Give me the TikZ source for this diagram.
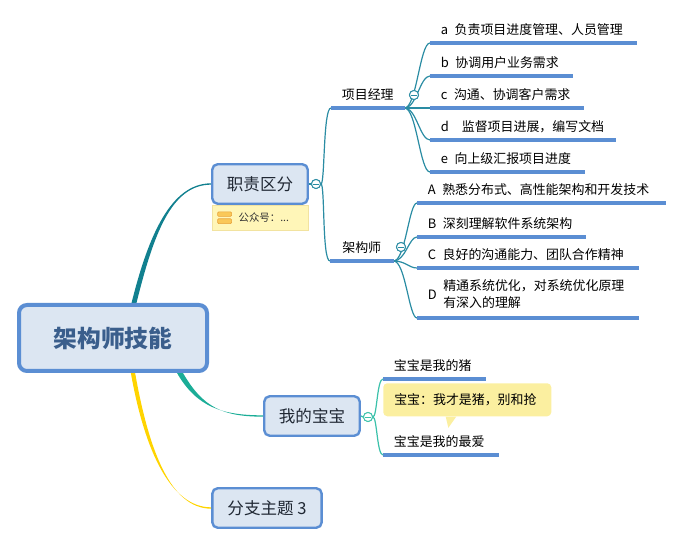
\documentclass[tikz,border=0pt]{standalone}
\usepackage{fontspec}
\setmainfont{Noto Sans CJK SC}
\usetikzlibrary{positioning,calc,backgrounds}
\definecolor{boxline}{HTML}{5B8ED3}
\definecolor{boxfill}{HTML}{DCE6F2}
\definecolor{roottext}{HTML}{3A5E8C}
\definecolor{topictext}{HTML}{1F2733}
\definecolor{mainA}{HTML}{11808F}
\definecolor{mainB}{HTML}{1BAD97}
\definecolor{mainC}{HTML}{FFD400}
\definecolor{subA}{HTML}{2A8CA3}
\definecolor{subB}{HTML}{3BC1AA}
\definecolor{notefill}{HTML}{FFF6B8}
\definecolor{notedraw}{HTML}{F2E3A0}
\definecolor{notetext}{HTML}{333333}
\definecolor{calloutfill}{HTML}{FBEFA0}
\definecolor{iconfill}{HTML}{FAC858}
\definecolor{icondraw}{HTML}{E8A33A}
\newcommand{\leaffont}{\fontsize{9.7pt}{13pt}\selectfont}

\begin{document}
\begin{tikzpicture}[x=0.75pt,y=0.75pt,
  root/.style={draw=boxline,line width=3pt,fill=boxfill,rounded corners=6pt,
    minimum width=141pt,minimum height=49.5pt,text=roottext,
    font=\fontsize{17.8pt}{20pt}\selectfont\bfseries},
  topic/.style={draw=boxline,line width=1.8pt,fill=boxfill,rounded corners=4pt,
    minimum width=71.6pt,minimum height=29.6pt,text=topictext,
    font=\fontsize{12.4pt}{15pt}\selectfont},
  leaf/.style={anchor=south west,inner xsep=8pt,inner ysep=3.5pt,text depth=2.5pt,
    text width=#1,align=left,font=\leaffont},
  uline/.style={draw=boxline,line width=2.4pt},
  brA/.style={draw=subA,line width=0.9pt},
  brB/.style={draw=subB,line width=0.9pt},
  fold/.style={circle,draw=#1,fill=white,line width=0.7pt,minimum size=6.8pt,inner sep=0pt,
    path picture={\draw[#1,line width=0.7pt] ([xshift=-2pt]path picture bounding box.center)
      -- ([xshift=2pt]path picture bounding box.center);}},
  note/.style={draw=notedraw,fill=notefill,line width=0.6pt,minimum height=18.5pt,
    text width=72pt,inner xsep=0pt,inner ysep=0pt,align=left,text=notetext,
    font=\fontsize{7.8pt}{9pt}\selectfont},
  callout/.style={fill=calloutfill,rounded corners=3pt,anchor=north west,
    minimum width=126pt,minimum height=24.75pt,text width=109.5pt,inner xsep=8.25pt,
    align=left,font=\leaffont},
  iconbar/.style={draw=icondraw,fill=iconfill,line width=0.5pt,rounded corners=0.8pt}
]
\useasboundingbox (0,0) rectangle (682,546);

%--- central topic and main branches ---
\node[root] (root) at (113,208) {架构师技能};
\node[topic] (t1) at (260,362) {职责区分};
\node[note,below=0pt of t1] (note) {\hspace*{20pt}公众号：...};
\node[topic] (t2) at (312,130) {我的宝宝};
\node[topic,minimum width=82pt] (t3) at (267,38) {分支主题 3};

% note icon
\filldraw[iconbar] ([xshift=4.5pt,yshift=-5.2pt]note.north west) rectangle ++(10.5pt,-3.4pt);
\filldraw[iconbar] ([xshift=4.5pt,yshift=-10.4pt]note.north west) rectangle ++(10.5pt,-3.6pt);

%--- sub topics of 职责区分 ---
\node[leaf=38.75pt,align=center] (pm) at (331,438) {项目经理};
\node[leaf=31.25pt,align=center] (arch) at (330,285) {架构师};

\node[leaf=138.5pt] (a) at (430,503) {a\enspace 负责项目进度管理、人员管理};
\node[leaf=90.5pt]  (b) at (430,470) {b\enspace 协调用户业务需求};
\node[leaf=98.75pt] (c) at (430,438) {c\enspace 沟通、协调客户需求};
\node[leaf=122.75pt](d) at (430,406) {d\enspace\enspace 监督项目进展，编写文档};
\node[leaf=99.5pt]  (e) at (430,374) {e\enspace 向上级汇报项目进度};

\node[leaf=170pt]    (A) at (417,343) {A\enspace 熟悉分布式、高性能架构和开发技术};
\node[leaf=110pt]    (B) at (417,309) {B\enspace 深刻理解软件系统架构};
\node[leaf=149.75pt] (C) at (417,278) {C\enspace 良好的沟通能力、团队合作精神};
\node[leaf=149.75pt,text depth={}] (D) at (417,228)
  {D\enspace\begin{tabular}[c]{@{}l@{}}精通系统优化，对系统优化原理\\有深入的理解\end{tabular}};

%--- sub topics of 我的宝宝 ---
\node[leaf=60.5pt]  (s1) at (383,167) {宝宝是我的猪};
\node[leaf=70.25pt] (s2) at (383,91)  {宝宝是我的最爱};
\node[callout] (co) at ([yshift=-3pt]s1.south west) {宝宝：我才是猪，别和抢};
\fill[calloutfill] ([xshift=47pt]co.south west) -- ([xshift=55pt]co.south west)
  -- ([xshift=49pt,yshift=-8.5pt]co.south west) -- cycle;

%--- tapered main branches ---
\begin{scope}[on background layer]
  \fill[mainA] ([xshift=13.9pt]root.north) to[out=76,in=180,out distance=52.5pt,in distance=30pt]
    ([yshift=0.5pt]t1.west) -- ([yshift=-0.5pt]t1.west)
    to[out=180,in=76,out distance=30pt,in distance=52.5pt] ([xshift=17.6pt]root.north) -- cycle;
  \fill[mainB] ([xshift=48pt]root.south) to[out=-60,in=180,out distance=30pt,in distance=30pt]
    ([yshift=0.5pt]t2.west) -- ([yshift=-0.5pt]t2.west)
    to[out=180,in=-60,out distance=30pt,in distance=30pt] ([xshift=52.5pt]root.south) -- cycle;
  \fill[mainC] ([xshift=13.4pt]root.south) to[out=-80,in=180,out distance=60pt,in distance=30pt]
    ([yshift=0.5pt]t3.west) -- ([yshift=-0.5pt]t3.west)
    to[out=180,in=-80,out distance=30pt,in distance=60pt] ([xshift=16.6pt]root.south) -- cycle;
\end{scope}

%--- brackets ---
\node[fold=subA] (f1) at (316,362) {};
\node[fold=subA] (f11) at (414,451) {};
\node[fold=subA] (f12) at (401,299) {};
\node[fold=subB] (f2) at (368,129) {};

\draw[brA] (t1.east) -- (f1.west);
\draw[brA] (f1.east) to[out=0,in=180,out distance=3pt,in distance=6pt] (pm.south west);
\draw[brA] (f1.east) to[out=0,in=180,out distance=3pt,in distance=6pt] (arch.south west);
\draw[brA] (pm.south east) to[out=0,in=180,out distance=9pt,in distance=7.5pt] (a.south west);
\draw[brA] (pm.south east) to[out=0,in=180,out distance=9pt,in distance=7.5pt] (b.south west);
\draw[brA] (pm.south east) -- (c.south west);
\draw[brA] (pm.south east) to[out=0,in=180,out distance=9pt,in distance=7.5pt] (d.south west);
\draw[brA] (pm.south east) to[out=0,in=180,out distance=9pt,in distance=7.5pt] (e.south west);
\draw[brA] (arch.south east) to[out=0,in=180,out distance=9pt,in distance=6pt] (A.south west);
\draw[brA] (arch.south east) to[out=0,in=180,out distance=9pt,in distance=6pt] (B.south west);
\draw[brA] (arch.south east) to[out=0,in=180,out distance=9pt,in distance=6pt] (C.south west);
\draw[brA] (arch.south east) to[out=0,in=180,out distance=9pt,in distance=6pt] (D.south west);
\draw[brB] (t2.east) -- (f2.west);
\draw[brB] (f2.east) to[out=0,in=180,out distance=3pt,in distance=4.5pt] (s1.south west);
\draw[brB] (f2.east) to[out=0,in=180,out distance=3pt,in distance=4.5pt] (s2.south west);

%--- underlines ---
\draw[uline] (pm.south west) -- (pm.south east);
\draw[uline] (arch.south west) -- (arch.south east);
\draw[uline] (a.south west) -- (a.south east);
\draw[uline] (b.south west) -- (b.south east);
\draw[uline] (c.south west) -- (c.south east);
\draw[uline] (d.south west) -- (d.south east);
\draw[uline] (e.south west) -- (e.south east);
\draw[uline] (A.south west) -- (A.south east);
\draw[uline] (B.south west) -- (B.south east);
\draw[uline] (C.south west) -- (C.south east);
\draw[uline] (D.south west) -- (D.south east);
\draw[uline] (s1.south west) -- (s1.south east);
\draw[uline] (s2.south west) -- (s2.south east);

% fold markers on top
\node[fold=subA] at (f1) {};
\node[fold=subA] at (f11) {};
\node[fold=subA] at (f12) {};
\node[fold=subB] at (f2) {};
\end{tikzpicture}
\end{document}
